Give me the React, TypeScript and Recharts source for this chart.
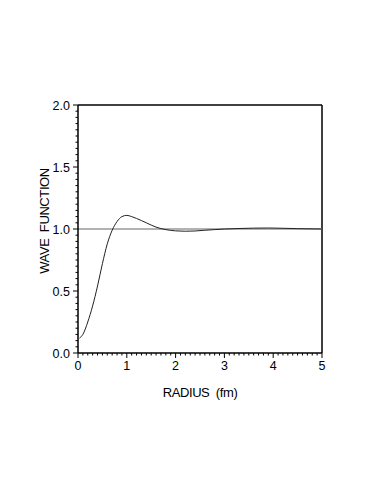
import React from 'react';
import {
    LineChart,
    Line,
    XAxis,
    YAxis,
    ReferenceLine
} from 'recharts';

// radius (fm) and wave function
const radius = [0.03, 0.1, 0.2, 0.3, 0.4, 0.5, 0.6, 0.7, 0.8, 0.9, 1.0, 1.1, 1.2, 1.4, 1.6, 1.8, 2.0, 2.2, 2.4, 2.6, 2.8, 3.0, 3.3, 3.6, 3.9, 4.2, 4.5, 5.0];
const wave = [0.12, 0.15, 0.25, 0.38, 0.54, 0.72, 0.88, 0.99, 1.06, 1.10, 1.11, 1.10, 1.085, 1.05, 1.015, 0.995, 0.985, 0.982, 0.984, 0.99, 0.995, 1.0, 1.004, 1.007, 1.008, 1.006, 1.003, 1.0];

// major ticks get a label, the rest are small minor ticks
const xMajor = [0, 1, 2, 3, 4, 5];
const yMajor = [0, 0.5, 1, 1.5, 2];
const xTicks = Array.from({ length: 51 }, (_, i) => i / 10);
const yTicks = Array.from({ length: 41 }, (_, i) => i / 20);

const chartData = radius.map((r, i) => ({ r, psi: wave[i] }));

const font = '"Liberation Sans", Arial, sans-serif';

const isMajor = (v: number, list: number[]) => list.some(m => Math.abs(m - v) < 1e-6);

function XTick({ x, y, payload }: any) {
    const major = isMajor(payload.value, xMajor);
    return (
        <g>
            <line x1={x} x2={x} y1={y} y2={y + (major ? 5 : 2.5)} stroke="#000" />
            {major && (
                <text x={x} y={y + 17} textAnchor="middle" fontSize={12.5} fontFamily={font} fill="#000">
                    {payload.value}
                </text>
            )}
        </g>
    );
}

function YTick({ x, y, payload }: any) {
    const major = isMajor(payload.value, yMajor);
    return (
        <g>
            <line x1={x} x2={x - (major ? 5 : 2.5)} y1={y} y2={y} stroke="#000" />
            {major && (
                <text x={x - 8} y={y + 5} textAnchor="end" fontSize={12.5} fontFamily={font} fill="#000">
                    {payload.value.toFixed(1)}
                </text>
            )}
        </g>
    );
}

function YTitle({ viewBox }: any) {
    const cx = viewBox.x + 14;
    const cy = viewBox.y + viewBox.height / 2 - 8;
    return (
        <text x={cx} y={cy} transform={`rotate(-90, ${cx}, ${cy})`} textAnchor="middle" dominantBaseline="central"
            fontSize={13} fontFamily={font} fill="#000" letterSpacing={-0.4}>
            {'WAVE\u00a0\u00a0FUNCTION'}
        </text>
    );
}

function XTitle({ viewBox }: any) {
    const cx = viewBox.x + viewBox.width / 2;
    return (
        <text x={cx} y={viewBox.y + 44} textAnchor="middle" fontSize={13} fontFamily={font} fill="#000" letterSpacing={-0.4}>
            {'RADIUS\u00a0\u00a0(fm)'}
        </text>
    );
}

export default function App() {
    return (
        <div style={{ position: 'absolute', left: 0, top: 0, width: 382, height: 494, background: '#fff' }}>
            <LineChart width={382} height={494} data={chartData}
                margin={{ top: 105, right: 60, bottom: 91, left: 30 }}>
                <XAxis dataKey="r" type="number" domain={[0, 5]} ticks={xTicks} interval={0} height={50}
                    tick={<XTick />} tickLine={false} tickSize={0} tickMargin={0}
                    axisLine={{ stroke: '#000', strokeWidth: 1.5 }}
                    label={<XTitle />} />
                <YAxis type="number" domain={[0, 2]} ticks={yTicks} interval={0} width={48}
                    tick={<YTick />} tickLine={false} tickSize={0} tickMargin={0}
                    axisLine={{ stroke: '#000', strokeWidth: 1.5 }}
                    label={<YTitle />} />
                <ReferenceLine y={2} stroke="#000" strokeWidth={1.5} />
                <ReferenceLine x={5} stroke="#000" strokeWidth={1.5} />
                <ReferenceLine y={1} stroke="#999" strokeWidth={1.5} />
                <Line type="monotone" dataKey="psi" stroke="#222" strokeWidth={1} dot={false}
                    isAnimationActive={false} />
            </LineChart>
        </div>
    );
}
